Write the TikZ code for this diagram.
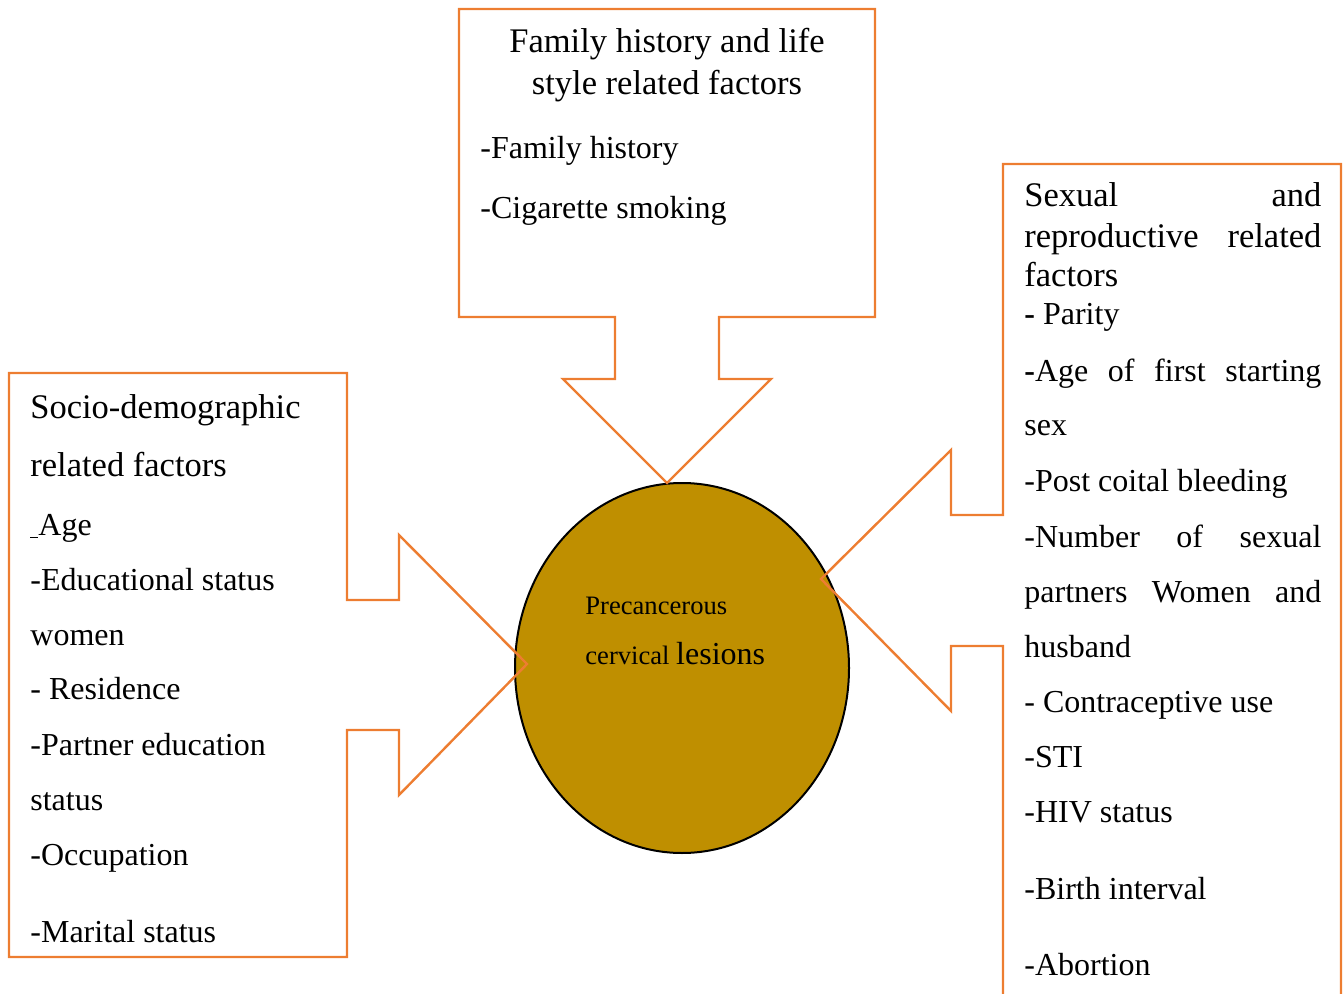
\documentclass[tikz,border=0pt]{standalone}
\usepackage{fontspec}
\setmainfont{Liberation Serif}
\usetikzlibrary{shapes.geometric}
\definecolor{corange}{HTML}{ED7D31}
\definecolor{cgold}{HTML}{BF8F00}
\newlength{\rw}\setlength{\rw}{148.5pt}

\begin{document}
\begin{tikzpicture}[x=0.5pt,y=-0.5pt,font=\fontsize{16}{19}\selectfont]
  \tikzstyle{callout}=[draw=corange,line width=1.2pt,line join=miter]
  \tikzstyle{txt}=[anchor=base west,inner sep=0pt,yshift=-1pt]
  \tikzstyle{head}=[txt,font=\fontsize{17.25}{20}\selectfont]
  \useasboundingbox (0,0) rectangle (1343,994);
  \clip (0,0) rectangle (1343,994);
  % centre
  \node[ellipse,draw,line width=1pt,fill=cgold,inner sep=0pt,
        minimum width=167pt,minimum height=185pt] (lesion) at (682,668) {};
  \node[txt,font=\fontsize{13.3}{16}\selectfont] (pre) at (585,612) {Precancerous};
  \node[txt,font=\fontsize{13.3}{16}\selectfont] (cer) at (585,662)
    {cervical {\fontsize{16}{19}\selectfont lesions}};
  % callouts
  \draw[callout] (459,9) -- (875,9) -- (875,317) -- (719,317) -- (719,379)
    -- (771,379) -- (667,483) -- (563,379) -- (615,379) -- (615,317)
    -- (459,317) -- cycle;
  \draw[callout] (9,373) -- (347,373) -- (347,600) -- (399,600) -- (399,535)
    -- (527,664) -- (399,795) -- (399,730) -- (347,730) -- (347,957)
    -- (9,957) -- cycle;
  \draw[callout] (1003,1010) -- (1003,646) -- (951,646) -- (951,711)
    -- (821,579) -- (951,450) -- (951,515) -- (1003,515) -- (1003,164)
    -- (1341,164) -- (1341,1010);
  % family history
  \node[head,anchor=base] (fam1) at (667,51) {Family history and life};
  \node[head,anchor=base] (fam2) at (667,93) {style related factors};
  \node[txt] (fam3) at (480,157) {-Family history};
  \node[txt] (fam4) at (480,217) {-Cigarette smoking};
  % socio-demographic
  \node[head] (soc1) at (30,416) {Socio-demographic};
  \node[head] (soc2) at (30,474) {related factors};
  \foreach \y/\t [count=\i from 3] in {533/{\rule[-1.5pt]{4pt}{0.6pt}Age},
      588/{-Educational status},643/women,697/{- Residence},
      753/{-Partner education},808/status,863/{-Occupation},940/{-Marital status}}
    \node[txt] (soc\i) at (30,\y) {\t};
  % sexual and reproductive
  \node[head] (sex1) at (1024,205) {\hbox to \rw{Sexual\hfil and}};
  \node[head] (sex2) at (1024,246) {\hbox to \rw{reproductive\hfil related}};
  \node[head] (sex3) at (1024,285) {factors};
  \node[txt] (sex4) at (1024,323) {\textbf{-} Parity};
  \node[txt] (sex5) at (1024,380) {\hbox to \rw{\textbf{-}Age\hfil of\hfil first\hfil starting}};
  \node[txt] (sex6) at (1024,434) {sex};
  \node[txt] (sex7) at (1024,489) {-Post coital bleeding};
  \node[txt] (sex8) at (1024,545) {\hbox to \rw{-Number\hfil of\hfil sexual}};
  \node[txt] (sex9) at (1024,600) {\hbox to \rw{partners\hfil Women\hfil and}};
  \foreach \y/\t [count=\i from 10] in {655/husband,710/{- Contraceptive use},
      765/{-STI},820/{-HIV status},897/{-Birth interval},973/{-Abortion}}
    \node[txt] (sex\i) at (1024,\y) {\t};
\end{tikzpicture}
\end{document}
